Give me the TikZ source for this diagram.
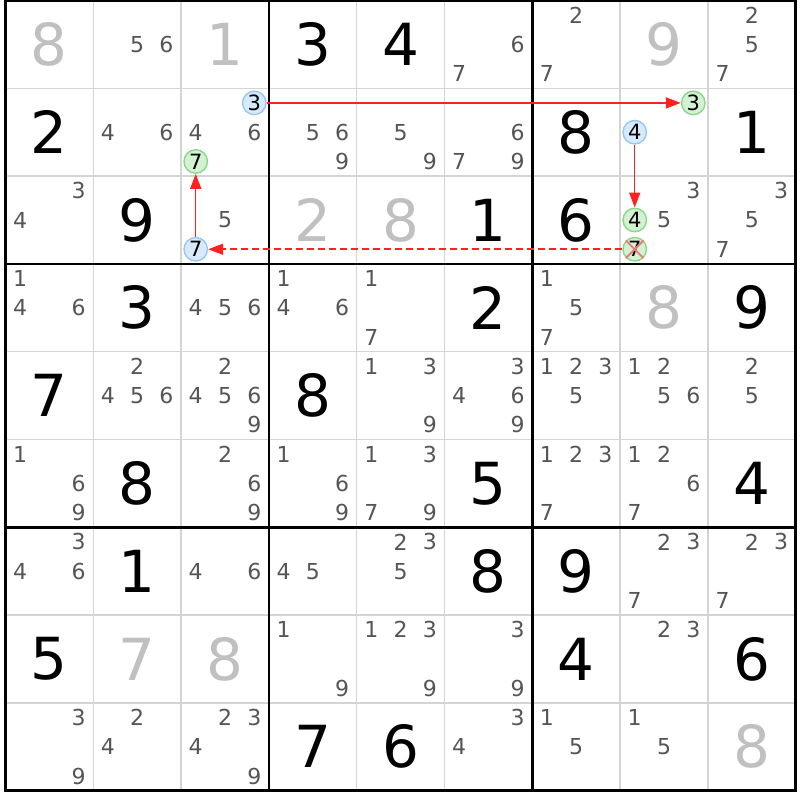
\documentclass[tikz,border=0pt]{standalone}
\usepackage{fontspec}
\setmainfont{DejaVu Sans}
\usetikzlibrary{arrows.meta}
\definecolor{candc}{HTML}{555555}
\definecolor{givgray}{HTML}{C0C0C0}
\definecolor{thinc}{HTML}{D4D4D4}
\definecolor{bfill}{HTML}{D6EAFC}
\definecolor{bdraw}{HTML}{99C7F4}
\definecolor{gfill}{HTML}{D3F2D3}
\definecolor{gdraw}{HTML}{88D888}
\definecolor{xred}{HTML}{F07878}
\definecolor{linkred}{HTML}{FF2020}
\newcommand\SZ{87.8}
\newcommand\XO{5.5}
\newcommand\YO{0.5}
\newcommand\Giv[4]{\node[bigd,text=#4] (g#1#2) at ({\XO+(#2-0.5)*\SZ},{\YO+(#1-0.5)*\SZ}) {#3};}
\newcommand\Cands[3]{\foreach \d in {#3} {\node[cand] (k#1#2\d) at ({\XO+(#2-1)*\SZ+(1/6+mod(\d-1,3)/3)*\SZ},{\YO+(#1-1)*\SZ+(1/6+floor((\d-1)/3)/3)*\SZ}) {\d};}}
\newcommand\Circ[4]{\node[#1] (k#2#3#4) at ({\XO+(#3-1)*\SZ+(1/6+mod(#4-1,3)/3)*\SZ},{\YO+(#2-1)*\SZ+(1/6+floor((#4-1)/3)/3)*\SZ}) {#4};}
\begin{document}
\begin{tikzpicture}[x=1pt,y=-1pt,
  bigd/.style={font=\fontsize{58}{58}\selectfont,inner sep=0pt},
  cand/.style={font=\fontsize{22}{22}\selectfont,text=candc,inner sep=0pt},
  circb/.style={circle,minimum size=23.5pt,inner sep=0pt,fill=bfill,draw=bdraw,line width=1.4pt,font=\fontsize{21}{21}\selectfont,text=black},
  circg/.style={circb,fill=gfill,draw=gdraw},
  thinl/.style={thinc,line width=1.5pt},
  thickl/.style={black,line width=2.8pt},
  arr/.style={linkred,line width=1.5pt,-{Triangle[length=15pt,width=11pt]}},
  dashl/.style={line width=1.7pt,dash pattern=on 7pt off 4pt}]
\fill[white] (0,0) rectangle (800,800);
\useasboundingbox (0,0) rectangle (800,800);
% grid
\foreach \i in {1,2,4,5,7,8} {
  \draw[thinl] ({\XO+\i*\SZ},\YO) -- ({\XO+\i*\SZ},{\YO+9*\SZ});
  \draw[thinl] (\XO,{\YO+\i*\SZ}) -- ({\XO+9*\SZ},{\YO+\i*\SZ});
}
\foreach \i in {0,3,6,9} {
  \draw[thickl] ({\XO+\i*\SZ},{\YO-1.4}) -- ({\XO+\i*\SZ},{\YO+9*\SZ+1.4});
  \draw[thickl] ({\XO-1.4},{\YO+\i*\SZ}) -- ({\XO+9*\SZ+1.4},{\YO+\i*\SZ});
}
% givens
\Giv{1}{1}{8}{givgray}\Giv{1}{3}{1}{givgray}\Giv{1}{4}{3}{black}\Giv{1}{5}{4}{black}\Giv{1}{8}{9}{givgray}
\Giv{2}{1}{2}{black}\Giv{2}{7}{8}{black}\Giv{2}{9}{1}{black}
\Giv{3}{2}{9}{black}\Giv{3}{4}{2}{givgray}\Giv{3}{5}{8}{givgray}\Giv{3}{6}{1}{black}\Giv{3}{7}{6}{black}
\Giv{4}{2}{3}{black}\Giv{4}{6}{2}{black}\Giv{4}{8}{8}{givgray}\Giv{4}{9}{9}{black}
\Giv{5}{1}{7}{black}\Giv{5}{4}{8}{black}
\Giv{6}{2}{8}{black}\Giv{6}{6}{5}{black}\Giv{6}{9}{4}{black}
\Giv{7}{2}{1}{black}\Giv{7}{6}{8}{black}\Giv{7}{7}{9}{black}
\Giv{8}{1}{5}{black}\Giv{8}{2}{7}{givgray}\Giv{8}{3}{8}{givgray}\Giv{8}{7}{4}{black}\Giv{8}{9}{6}{black}
\Giv{9}{4}{7}{black}\Giv{9}{5}{6}{black}\Giv{9}{9}{8}{givgray}
% candidates
\Cands{1}{2}{5,6}\Cands{1}{6}{6,7}\Cands{1}{7}{2,7}\Cands{1}{9}{2,5,7}
\Cands{2}{2}{4,6}\Cands{2}{3}{4,6}\Cands{2}{4}{5,6,9}\Cands{2}{5}{5,9}\Cands{2}{6}{6,7,9}
\Cands{3}{1}{3,4}\Cands{3}{3}{5}\Cands{3}{8}{3,5}\Cands{3}{9}{3,5,7}
\Cands{4}{1}{1,4,6}\Cands{4}{3}{4,5,6}\Cands{4}{4}{1,4,6}\Cands{4}{5}{1,7}\Cands{4}{7}{1,5,7}
\Cands{5}{2}{2,4,5,6}\Cands{5}{3}{2,4,5,6,9}\Cands{5}{5}{1,3,9}\Cands{5}{6}{3,4,6,9}\Cands{5}{7}{1,2,3,5}\Cands{5}{8}{1,2,5,6}\Cands{5}{9}{2,5}
\Cands{6}{1}{1,6,9}\Cands{6}{3}{2,6,9}\Cands{6}{4}{1,6,9}\Cands{6}{5}{1,3,7,9}\Cands{6}{7}{1,2,3,7}\Cands{6}{8}{1,2,6,7}
\Cands{7}{1}{3,4,6}\Cands{7}{3}{4,6}\Cands{7}{4}{4,5}\Cands{7}{5}{2,3,5}\Cands{7}{8}{2,3,7}\Cands{7}{9}{2,3,7}
\Cands{8}{4}{1,9}\Cands{8}{5}{1,2,3,9}\Cands{8}{6}{3,9}\Cands{8}{8}{2,3}
\Cands{9}{1}{3,9}\Cands{9}{2}{2,4}\Cands{9}{3}{2,3,4,9}\Cands{9}{6}{3,4}\Cands{9}{7}{1,5}\Cands{9}{8}{1,5}
% highlighted candidates
\Circ{circb}{2}{3}{3}\Circ{circg}{2}{3}{7}
\Circ{circg}{2}{8}{3}\Circ{circb}{2}{8}{4}
\Circ{circb}{3}{3}{7}
\Circ{circg}{3}{8}{4}\Circ{circg}{3}{8}{7}
\draw[xred,line width=1.8pt] (k387.north west) -- (k387.south east);
\draw[xred,line width=1.8pt] (k387.north east) -- (k387.south west);
% links
\draw[arr] (k233) -- (k283);
\draw[arr] (k284) -- (k384);
\draw[arr,dashl] (k387) -- (k337);
\draw[arr] (k337) -- (k237);
\end{tikzpicture}
\end{document}
